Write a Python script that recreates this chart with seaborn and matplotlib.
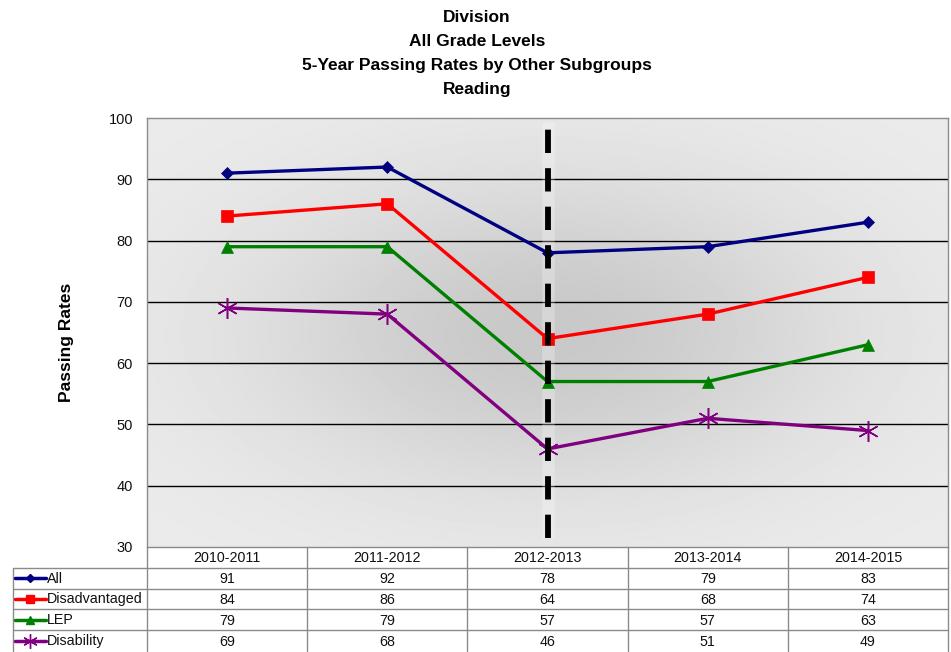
import numpy as np
import pandas as pd
import matplotlib
matplotlib.use("Agg")
import matplotlib.pyplot as plt
from matplotlib.lines import Line2D
import seaborn as sns

# ---- data ----
years = ["2010-2011", "2011-2012", "2012-2013", "2013-2014", "2014-2015"]
all_students = [91, 92, 78, 79, 83]
disadvantaged = [84, 86, 64, 68, 74]
lep = [79, 79, 57, 57, 63]
disability = [69, 68, 46, 51, 49]
y_ticks = [30, 40, 50, 60, 70, 80, 90, 100]

series_names = ["All", "Disadvantaged", "LEP", "Disability"]
series_values = [all_students, disadvantaged, lep, disability]

sns.set_theme(style="white")
plt.rcParams["font.family"] = ["Liberation Sans", "DejaVu Sans"]

colors = {"All": "#000080", "Disadvantaged": "#ff0000", "LEP": "#008000", "Disability": "#800080"}
markers = {"All": "D", "Disadvantaged": "s", "LEP": "^", "Disability": (6, 2, 0)}
msizes = {"All": 6.5, "Disadvantaged": 8.5, "LEP": 8.5, "Disability": 15}

df = pd.DataFrame({
    "year": np.tile(np.arange(len(years)), len(series_names)),
    "rate": np.concatenate(series_values),
    "group": np.repeat(series_names, len(years)),
})

W, H = 951, 652
fig = plt.figure(figsize=(W / 100, H / 100), dpi=100)

# plot area in pixels
px_l, px_r, px_t, px_b = 147, 948, 118, 547
ax = fig.add_axes([px_l / W, 1 - px_b / H, (px_r - px_l) / W, (px_b - px_t) / H])
ax.set_xlim(-0.5, len(years) - 0.5)
ax.set_ylim(30, 100)

# shaded background
gx = np.linspace(0, 1, 400)
gy = np.linspace(0, 1, 300)
GX, GY = np.meshgrid(gx, gy)
r2 = ((GX - 0.5) / 0.55) ** 2 + ((GY - 0.5) / 0.55) ** 2
shade = 0.925 - 0.14 * np.exp(-r2 * 2.2)
ax.imshow(shade, extent=(-0.5, len(years) - 0.5, 30, 100), origin="lower",
          cmap="gray", vmin=0, vmax=1, aspect="auto", zorder=0, interpolation="bilinear")

for v in y_ticks[1:-1]:
    ax.axhline(v, color="black", lw=1.0, zorder=1)

for spine in ["top", "left", "right"]:
    ax.spines[spine].set_color("#8c8c8c")
    ax.spines[spine].set_linewidth(1.0)
ax.spines["bottom"].set_visible(False)

# dashed divider at 2012-2013
ax.plot([2, 2], [31.5, 99.3], color="white", lw=9, alpha=0.25, zorder=2, solid_capstyle="butt")
ax.plot([2, 2], [31.5, 99.3], color="black", lw=4.2,
        linestyle=(0, (4, 2.6)), zorder=6, dash_capstyle="butt")

for name in series_names:
    sub = df[df["group"] == name]
    sns.lineplot(data=sub, x="year", y="rate", ax=ax, color=colors[name],
                 marker=markers[name], markersize=msizes[name],
                 markeredgecolor=colors[name], markerfacecolor=colors[name],
                 markeredgewidth=1.1 if name == "Disability" else 0.5,
                 linewidth=2.4, zorder=4, legend=False)

ax.set_yticks(y_ticks)
ax.set_yticklabels([str(v) for v in y_ticks], fontsize=10.5, color="#111111")
ax.tick_params(axis="y", length=0, pad=10)
ax.set_xticks([])
ax.set_xlabel("")
ax.set_ylabel("")

fig.text(67 / W, 1 - 342 / H, "Passing Rates", rotation=90, ha="center", va="center",
         fontsize=12.5, fontweight="bold", color="black")

title_lines = ["Division", "All Grade Levels", "5-Year Passing Rates by Other Subgroups", "Reading"]
for i, line in enumerate(title_lines):
    fig.text(477 / W, 1 - (18 + 23.7 * i) / H, line, ha="center", va="center",
             fontsize=12.5, fontweight="bold", color="black")

# ---- data table ----
tb_t, tb_b = 547, 651
tax = fig.add_axes([px_l / W, 1 - tb_b / H, (px_r - px_l) / W, (tb_b - tb_t) / H])
nrows = len(series_names) + 1
tax.set_xlim(-0.5, len(years) - 0.5)
tax.set_ylim(nrows, 0)
tax.axis("off")

grid_c = "#8a8a8a"
left_edge = -0.5 + (13 - px_l) / 160.2
# horizontal rules
tax.plot([-0.5, len(years) - 0.5], [0, 0], color=grid_c, lw=1, clip_on=False)
for r in range(1, nrows):
    tax.plot([left_edge, len(years) - 0.5], [r, r], color=grid_c, lw=1, clip_on=False)
# vertical rules
for c in range(len(years) + 1):
    tax.plot([c - 0.5, c - 0.5], [0, nrows], color=grid_c, lw=1, clip_on=False)
tax.plot([left_edge, left_edge], [1, nrows], color=grid_c, lw=1, clip_on=False)

for c, yr in enumerate(years):
    tax.text(c, 0.55, yr, ha="center", va="center", fontsize=10.3, color="#111111")
for r, (name, vals) in enumerate(zip(series_names, series_values), start=1):
    for c, v in enumerate(vals):
        tax.text(c, r + 0.55, str(v), ha="center", va="center", fontsize=10.3, color="#111111")
    x0 = -0.5 + (15 - px_l) / 160.2
    x1 = -0.5 + (46 - px_l) / 160.2
    tax.add_line(Line2D([x0, x1], [r + 0.5, r + 0.5], color=colors[name], lw=2.5, clip_on=False))
    tax.add_line(Line2D([(x0 + x1) / 2], [r + 0.5], color=colors[name], marker=markers[name],
                        markersize=msizes[name] * 0.7, markeredgecolor=colors[name],
                        markeredgewidth=1.0, clip_on=False))
    tax.text(-0.5 + (47 - px_l) / 160.2, r + 0.52, name, ha="left", va="center",
             fontsize=10.3, color="#111111")

fig.savefig("out.png", dpi=100, facecolor="white")
